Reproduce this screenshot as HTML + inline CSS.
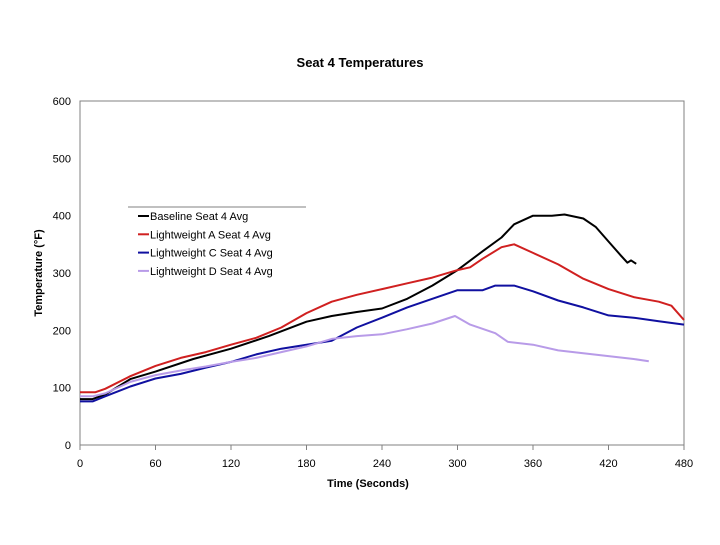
<!DOCTYPE html>
<html><head><meta charset="utf-8"><style>
body{margin:0;background:#fff;}
svg text{font-family:"Liberation Sans",Arial,sans-serif;}
</style></head><body>
<svg id="chart" width="720" height="540" xmlns="http://www.w3.org/2000/svg">
<text x="360" y="67" text-anchor="middle" font-size="13" font-weight="bold">Seat 4 Temperatures</text>
<rect x="80" y="101" width="604" height="344" fill="none" stroke="#808080" stroke-width="1"/>
<g id="axes"></g>
<g id="series"></g>
<text x="368" y="487" text-anchor="middle" font-size="11" font-weight="bold">Time (Seconds)</text>
<text transform="translate(42,273) rotate(-90)" text-anchor="middle" font-size="11" font-weight="bold">Temperature (°F)</text>
<g id="legend">
<line x1="128" y1="207" x2="306" y2="207" stroke="#808080" stroke-width="1"/>
</g>
</svg>
<script>
const xTicks=[0,60,120,180,240,300,360,420,480];
const yTicks=[0,100,200,300,400,500,600];
const seriesNames=["Baseline Seat 4 Avg","Lightweight A Seat 4 Avg","Lightweight C Seat 4 Avg","Lightweight D Seat 4 Avg"];
const seriesColors=["#000000","#d02020","#1010a0","#b89be8"];
const baselineT=[0,10,20,40,60,90,120,150,180,200,220,240,260,280,300,320,335,345,360,375,385,400,410,420,430,435,438,442];
const baselineV=[80,80,88,115,128,150,168,190,215,225,232,238,255,278,305,338,362,385,400,400,402,395,380,355,330,318,322,316];
const aT=[0,12,20,40,60,80,100,120,140,160,180,200,220,240,260,280,300,310,320,335,345,360,380,400,420,440,460,470,480];
const aV=[92,92,98,120,138,152,162,175,187,205,230,250,262,272,282,292,305,310,325,345,350,335,315,290,272,258,250,243,218];
const cT=[0,10,20,40,60,80,100,120,140,160,180,200,220,240,260,280,300,320,330,345,360,380,400,420,440,460,480];
const cV=[76,76,85,102,116,124,135,145,158,168,175,182,205,222,240,255,270,270,278,278,268,252,240,226,222,216,210];
const dT=[0,10,20,40,60,80,100,120,140,160,180,200,220,240,260,280,298,310,330,340,360,380,400,420,440,452];
const dV=[85,85,90,110,122,130,137,145,152,162,172,185,190,193,202,212,225,210,195,180,175,165,160,155,150,146];
const ns="http://www.w3.org/2000/svg";
const X=t=>80+t*604/480, Y=v=>445-v*344/600;
const axes=document.getElementById('axes');
function mk(tag,attrs,parent){const e=document.createElementNS(ns,tag);for(const k in attrs)e.setAttribute(k,attrs[k]);parent.appendChild(e);return e;}
xTicks.forEach(t=>{
 mk('line',{x1:X(t),x2:X(t),y1:445,y2:450,stroke:'#808080'},axes);
 const tx=mk('text',{x:X(t),y:467,'text-anchor':'middle','font-size':'11'},axes);
 tx.textContent=t;
 
 
});
yTicks.forEach(v=>{
 const tx=mk('text',{x:71,y:Y(v)+4,'text-anchor':'end','font-size':'11'},axes);
 tx.textContent=v;
 
 
});
const sg=document.getElementById('series');
const data=[[baselineT,baselineV],[aT,aV],[cT,cV],[dT,dV]];
const slugs=['baseline-line','lightweight-a-line','lightweight-c-line','lightweight-d-line'];
data.forEach((d,i)=>{
 const pts=d[0].map((t,j)=>X(t).toFixed(1)+','+Y(d[1][j]).toFixed(1)).join(' ');
 const p=mk('polyline',{points:pts,fill:'none',stroke:seriesColors[i],'stroke-width':'2','stroke-linejoin':'round'},sg);
 
 
});
const lg=document.getElementById('legend');
seriesNames.forEach((n,i)=>{
 const y=216+i*18.3;
 mk('line',{x1:138,x2:149,y1:y,y2:y,stroke:seriesColors[i],'stroke-width':'2'},lg);
 const tx=mk('text',{x:150,y:y+4,'font-size':'11'},lg);
 tx.textContent=n;
 
 
});
</script>
</body></html>
